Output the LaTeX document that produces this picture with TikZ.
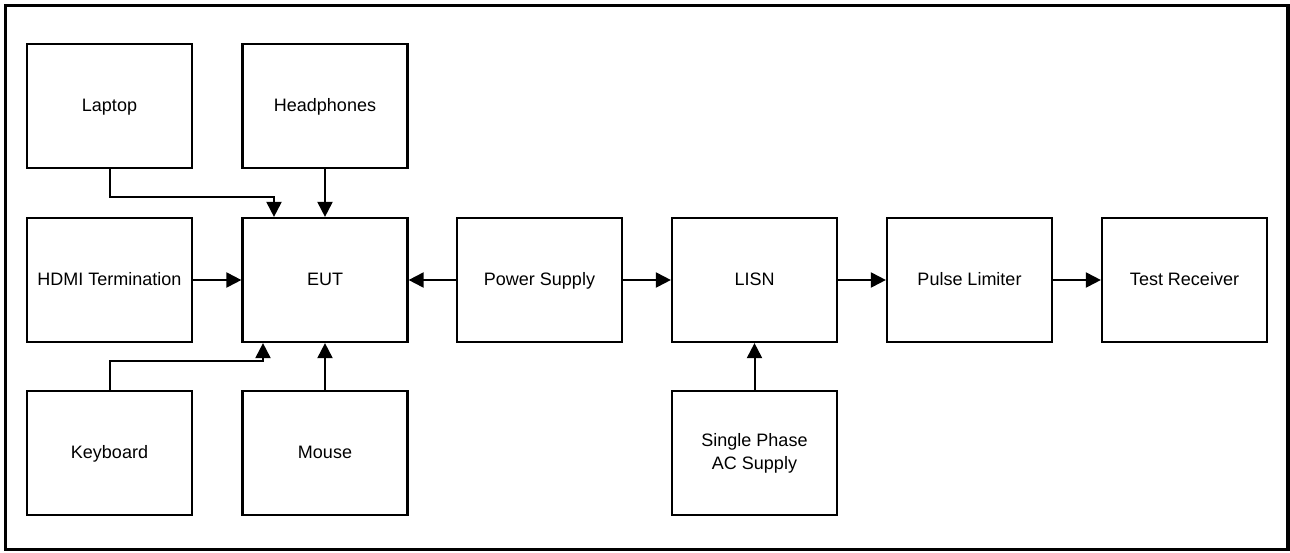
\documentclass[tikz,border=0pt]{standalone}
\usepackage{fontspec}
\setmainfont{Liberation Sans}
\usetikzlibrary{arrows.meta}
\begin{document}
\begin{tikzpicture}[x=1pt,y=-1pt,
  blk/.style={draw=black,line width=2.2pt,minimum width=165pt,minimum height=124pt,inner sep=0pt,align=center,text height=13pt,text depth=1.5pt,font=\fontsize{18}{23}\selectfont},
  conn/.style={line width=2pt,-{Triangle[length=15pt,width=15pt]}}]
\useasboundingbox (0,0) rectangle (1290,552);
\draw[line width=3.5pt] (5.5,5.5) rectangle (1288,549.5);
% row 1
\node[blk] (laptop) at (109.5,106) {Laptop};
\node[blk] (head) at (325,106) {Headphones};
% row 2
\node[blk] (hdmi) at (109.5,280) {HDMI Termination};
\node[blk] (eut) at (325,280) {EUT};
\node[blk] (ps) at (539.5,280) {Power Supply};
\node[blk] (lisn) at (754.5,280) {LISN};
\node[blk] (pl) at (969.5,280) {Pulse Limiter};
\node[blk] (tr) at (1184.5,280) {Test Receiver};
% row 3
\node[blk] (kb) at (109.5,453) {Keyboard};
\node[blk] (mouse) at (325,453) {Mouse};
\node[blk,text height=,text depth=] (ac) at (754.5,453) {Single Phase\\AC Supply};
% connectors
\coordinate (lt) at (274,197);
\coordinate (kt) at (263,361);
\draw[conn] (laptop.south) -- (laptop.south |- lt) -- (lt) -- (lt |- eut.north);
\draw[conn] (head.south) -- (eut.north);
\draw[conn] (hdmi.east) -- (eut.west);
\draw[conn] (kb.north) -- (kb.north |- kt) -- (kt) -- (kt |- eut.south);
\draw[conn] (mouse.north) -- (eut.south);
\draw[conn] (ps.west) -- (eut.east);
\draw[conn] (ps.east) -- (lisn.west);
\draw[conn] (lisn.east) -- (pl.west);
\draw[conn] (pl.east) -- (tr.west);
\draw[conn] (ac.north) -- (lisn.south);
\end{tikzpicture}
\end{document}
